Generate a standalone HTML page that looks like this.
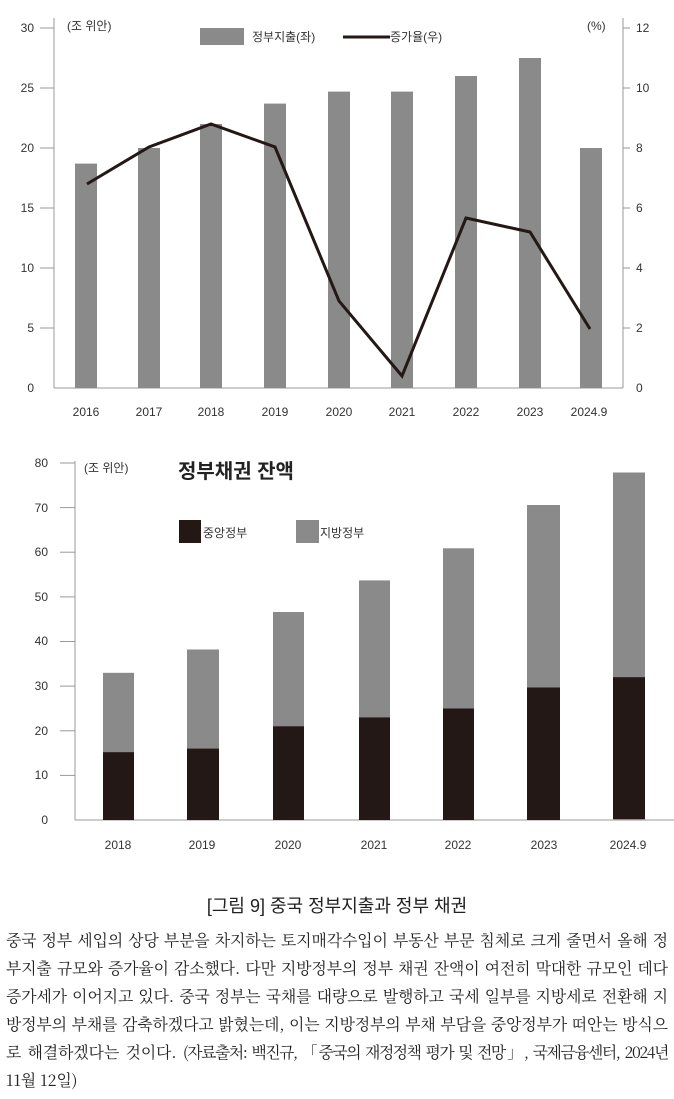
<!DOCTYPE html>
<html><head><meta charset="utf-8"><style>
body{margin:0;width:674px;height:1099px;background:#fff;overflow:hidden;font-family:"Liberation Sans","Noto Sans CJK KR",sans-serif}
svg text{font-family:"Liberation Sans","Noto Sans CJK KR",sans-serif}
.cap{position:absolute;top:892px;left:0;width:674px;text-align:center;font-size:18px;color:#222}
.p{position:absolute;top:926px;left:6px;width:662px;font-size:15.8px;line-height:28px;color:#222;text-align:justify;word-break:break-all;font-family:"Noto Serif CJK SC","Liberation Serif",serif}
</style></head><body>
<svg width="674" height="880" style="position:absolute;left:0;top:0">
<g font-size="12" fill="#333">
<line x1="54" y1="18" x2="54" y2="388" stroke="#999"/>
<line x1="54" y1="388" x2="623" y2="388" stroke="#999"/>
<line x1="623" y1="18" x2="623" y2="388" stroke="#999"/>
<g text-anchor="end">
<text x="34" y="32">30</text><text x="34" y="92">25</text><text x="34" y="152">20</text><text x="34" y="212">15</text><text x="34" y="272">10</text><text x="34" y="332">5</text><text x="34" y="392">0</text></g>
<g stroke="#999"><line x1="40" y1="28" x2="54" y2="28"/><line x1="40" y1="88" x2="54" y2="88"/><line x1="40" y1="148" x2="54" y2="148"/><line x1="40" y1="208" x2="54" y2="208"/><line x1="40" y1="268" x2="54" y2="268"/><line x1="40" y1="328" x2="54" y2="328"/>
<line x1="623" y1="28" x2="630" y2="28"/><line x1="623" y1="88" x2="630" y2="88"/><line x1="623" y1="148" x2="630" y2="148"/><line x1="623" y1="208" x2="630" y2="208"/><line x1="623" y1="268" x2="630" y2="268"/><line x1="623" y1="328" x2="630" y2="328"/></g>
<text x="636" y="32">12</text><text x="636" y="92">10</text><text x="636" y="152">8</text><text x="636" y="212">6</text><text x="636" y="272">4</text><text x="636" y="332">2</text><text x="636" y="392">0</text>
<text x="67" y="30">(조 위안)</text><text x="587" y="30">(%)</text>
<rect x="200" y="28" width="44" height="17" fill="#8a8a8a"/><text x="252" y="41">정부지출(좌)</text>
<line x1="343" y1="37" x2="390" y2="37" stroke="#231815" stroke-width="3"/><text x="390" y="41">증가율(우)</text>
<g fill="#8a8a8a">
<rect x="75" y="163.6" width="22" height="224.4"/><rect x="138" y="148" width="22" height="240"/><rect x="200" y="124" width="22" height="264"/><rect x="264" y="103.6" width="22" height="284.4"/><rect x="328" y="91.6" width="22" height="296.4"/><rect x="391" y="91.6" width="22" height="296.4"/><rect x="455" y="76" width="22" height="312"/><rect x="519" y="58" width="22" height="330"/><rect x="580" y="148" width="22" height="240"/></g>
<polyline fill="none" stroke="#231815" stroke-width="3" points="87,184 149,147 211,124 275,147 339,301 402,376 466,218 530,232 590,329"/>
<g text-anchor="middle"><text x="86" y="416">2016</text><text x="149" y="416">2017</text><text x="211" y="416">2018</text><text x="275" y="416">2019</text><text x="339" y="416">2020</text><text x="402" y="416">2021</text><text x="466" y="416">2022</text><text x="530" y="416">2023</text><text x="589" y="416">2024.9</text></g>
</g>
<g font-size="12" fill="#333">
<line x1="75" y1="461" x2="75" y2="820" stroke="#999"/>
<line x1="75" y1="820" x2="674" y2="820" stroke="#999"/>
<g stroke="#999"><line x1="60" y1="463" x2="75" y2="463"/><line x1="60" y1="507.6" x2="75" y2="507.6"/><line x1="60" y1="552.2" x2="75" y2="552.2"/><line x1="60" y1="596.9" x2="75" y2="596.9"/><line x1="60" y1="641.5" x2="75" y2="641.5"/><line x1="60" y1="686.1" x2="75" y2="686.1"/><line x1="60" y1="730.8" x2="75" y2="730.8"/><line x1="60" y1="775.4" x2="75" y2="775.4"/></g>
<g text-anchor="end"><text x="48" y="467">80</text><text x="48" y="512">70</text><text x="48" y="556">60</text><text x="48" y="601">50</text><text x="48" y="645">40</text><text x="48" y="690">30</text><text x="48" y="735">20</text><text x="48" y="779">10</text><text x="48" y="824">0</text></g>
<text x="84" y="472">(조 위안)</text>
<text x="178" y="478" font-size="20" font-weight="bold" fill="#222">정부채권 잔액</text>
<rect x="179" y="520" width="22" height="23" fill="#231815"/><text x="203" y="537">중앙정부</text>
<rect x="296" y="520" width="23" height="23" fill="#8a8a8a"/><text x="320" y="537">지방정부</text>
<g fill="#8a8a8a"><rect x="103" y="672.8" width="31" height="147.2"/><rect x="187" y="649.5" width="32" height="170.5"/><rect x="273" y="612" width="31" height="208"/><rect x="359" y="580.4" width="31" height="239.6"/><rect x="443" y="548.3" width="31" height="271.7"/><rect x="527" y="505" width="33" height="315"/><rect x="613" y="472.5" width="32" height="347.5"/></g>
<g fill="#231815"><rect x="103" y="752.2" width="31" height="67.8"/><rect x="187" y="748.6" width="32" height="71.4"/><rect x="273" y="726.3" width="31" height="93.7"/><rect x="359" y="717.4" width="31" height="102.6"/><rect x="443" y="708.5" width="31" height="111.5"/><rect x="527" y="687.5" width="33" height="132.5"/><rect x="613" y="677.2" width="32" height="141.8"/></g>
<g text-anchor="middle"><text x="118" y="849">2018</text><text x="202" y="849">2019</text><text x="288" y="849">2020</text><text x="374" y="849">2021</text><text x="458" y="849">2022</text><text x="544" y="849">2023</text><text x="628" y="849">2024.9</text></g>
</g>
</svg>
<div class="cap">[그림 9] 중국 정부지출과 정부 채권</div>
<div class="p">중국 정부 세입의 상당 부분을 차지하는 토지매각수입이 부동산 부문 침체로 크게 줄면서 올해 정부지출 규모와 증가율이 감소했다. 다만 지방정부의 정부 채권 잔액이 여전히 막대한 규모인 데다 증가세가 이어지고 있다. 중국 정부는 국채를 대량으로 발행하고 국세 일부를 지방세로 전환해 지방정부의 부채를 감축하겠다고 밝혔는데, 이는 지방정부의 부채 부담을 중앙정부가 떠안는 방식으로 해결하겠다는 것이다. <span style="letter-spacing:-1.4px">(자료출처: 백진규, 「중국의 재정정책 평가 및 전망」, 국제금융센터, <span style="white-space:nowrap">2024년</span></span> <span style="white-space:nowrap">11월</span> 12일)</div>
</body></html>
